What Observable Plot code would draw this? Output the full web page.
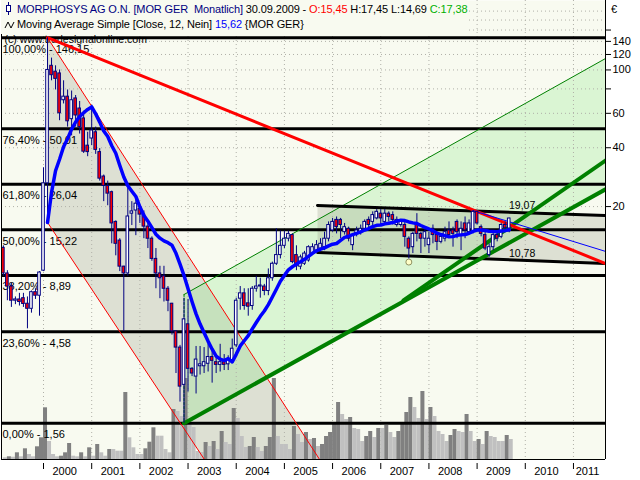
<!DOCTYPE html>
<html><head><meta charset="utf-8">
<script src="https://cdn.jsdelivr.net/npm/d3@7"></script>
<script src="https://cdn.jsdelivr.net/npm/@observablehq/plot@0.6"></script>
<style>
body{margin:0;background:#fff;}
#wrap{position:relative;width:640px;height:480px;overflow:hidden;font-family:"Liberation Sans",Arial,sans-serif;}
.layer{position:absolute;left:0;top:0;}
#hdr{position:absolute;left:1px;top:0;width:466px;height:34px;background:#f8faf0;font-size:11px;letter-spacing:-0.12px;white-space:pre;color:#000;line-height:13px;}
#hdr .l1{position:absolute;left:16px;top:3px;}
#hdr .l2{position:absolute;left:16px;top:18px;}
#hdr svg{position:absolute;left:3px;}
#eur{position:absolute;left:611px;top:3px;font-size:11px;line-height:13px;}
</style></head>
<body>
<div id="wrap">
  <div id="p1" class="layer"></div>
  <div id="p2" class="layer"></div>
  <div id="p3" class="layer"></div>
  <div id="hdr">
    <svg style="top:2px" width="10" height="14"><line x1="4.5" y1="0" x2="4.5" y2="13" stroke="#000080"/><rect x="2.5" y="3.5" width="4" height="6" fill="#fff" stroke="#000080"/></svg>
    <div class="l1"><span style="color:#000080">MORPHOSYS AG O.N. [MOR GER  Monatlich]</span> 30.09.2009 - <span style="color:#ff0000">O:15,45</span> H:17,45 L:14,69 <span style="color:#00b000">C:17,38</span></div>
    <svg style="top:19px" width="12" height="12"><path d="M1,9 L4,3 L7,9 L10,3" fill="none" stroke="#000" stroke-width="1"/></svg>
    <div class="l2">Moving Average Simple [Close, 12, Nein] <span style="color:#0000ff">15,62</span> {MOR GER}</div>
  </div>
  <div id="eur">€</div>
</div>
<script>
// ---- data ----
const fibPct = ["100,00%","76,40%","61,80%","50,00%","38,20%","23,60%","0,00%"];
const fibVal = [146.15,50.01,26.04,15.22,8.89,4.58,1.56];
const yTicks = [20,40,60,80,100,120,140,160];
const yGrid = [20,40,60,80,100,120,140,160,180,200];
const years = [2000,2001,2002,2003,2004,2005,2006,2007,2008,2009,2010,2011];
const firstMonth = 1999 + 2/12; // March 1999
const opens = [12.3,9.1,7.8,6.6,6.7,6.8,6.37,6.0,7.3,7.0,
 9.4,26.3,105,98,96,70,73,56,71.5,63.5,56.5,41,44.6,48,38,28.5,25.5,23.7,16.7,13.4,
 9.86,9.1,18.4,19.1,19.5,18.2,15.8,13.7,10.8,9.1,8.8,7.6,6.37,4.6,3.8,2.45,5.0,2.96,2.7,3.05,
 3.05,3.14,3.4,3.2,3.1,3.2,3.12,3.25,3.9,6.76,7.2,6.4,6.2,7.6,7.8,7.8,7.4,8.6,10.2,11.3,
 12.6,13.7,14.3,11.3,9.85,10.2,10.6,11.5,11.9,12.2,12.4,13.7,15.1,17.1,17.1,14.8,15.4,12.7,14.5,14.8,
 15.4,17.1,16.7,17.4,18.4,16.7,18.4,18.1,16.1,16.1,16.1,13.7,12.4,16.4,14.5,13.7,12.7,15.4,14.3,13.2,
 13.7,15.1,15.1,16.7,14.3,16.4,14.8,14.8,18.8,15.7,14.3,11.3,12.4,14.3,14.0,16.1,15.45];
const highs = [12.6,9.4,8.1,6.9,7.2,7.2,6.9,7.4,7.6,9.3,
 31.6,146.15,115,105,100,88,79,78,74,69,61.5,48,66,51,39.6,29,27,24,16.9,13.7,
 9.9,25.6,21.2,22,20.2,19,16.4,14,12.2,9.9,9.9,7.8,6.4,4.6,3.9,6.8,6.7,3.0,3.85,3.85,
 3.8,3.95,3.75,3.4,3.95,3.5,3.45,4.2,6.8,7.8,7.6,7.6,7.8,8.8,8.6,8.0,9.6,10.4,15.4,15.0,
 15.0,15.0,14.5,12.6,11.3,11.8,12.6,12.9,13.4,13.7,14.8,16.7,17.4,17.7,17.4,16.4,15.7,14.5,15.7,16.1,
 17.1,17.7,18.8,19.3,19.3,19.3,18.8,18.8,17.7,17.1,16.7,14.0,14.8,18.4,14.8,15.4,14.8,16.1,14.8,14.5,
 15.7,16.7,15.7,17.1,16.7,17.7,17.1,19.07,19.0,16.1,14.8,12.9,14.8,15.1,16.4,16.7,17.45];
const lows = [8.8,6.6,6.1,6.3,6.2,6.1,4.74,5.7,6.7,5.5,
 9.3,17.0,88,79,55,67,51,46,51,47,37.4,36,41,37,27,21.2,20.2,12.9,11.2,9.3,
 4.6,8.8,16.0,14.2,16.4,13.7,12.2,10.5,7.6,6.76,6.5,5.8,4.4,2.8,2.0,1.56,2.25,2.7,2.2,2.75,
 2.8,2.85,2.5,2.8,2.85,2.9,2.9,3.2,3.8,5.9,5.9,5.5,5.9,7.3,6.8,7.0,7.0,8.3,10.0,10.8,
 12.2,13.2,10.2,9.4,9.5,10.0,10.4,11.3,11.5,11.7,11.9,13.2,14.8,14.5,13.7,14.3,13.2,11.9,14.0,14.3,
 15.1,15.4,15.7,17.1,16.1,16.1,16.7,16.1,15.7,15.7,12.4,10.78,11.5,13.2,11.5,12.4,11.5,12.9,11.9,12.9,
 13.2,14.0,12.4,13.7,11.9,13.7,14.5,14.5,16.1,14.0,11.9,11.0,11.9,13.2,13.7,14.8,14.69];
const closes = [9.1,7.8,6.6,6.7,6.5,6.35,6.0,7.3,7.0,9.2,
 26.3,100,94,90,60,73,54.6,70,58.5,51,38.2,38,49,39,27.8,25.5,23.3,16.4,12.9,9.86,
 9.1,17.8,18.9,20.7,18.2,15.8,13.7,10.8,9.1,8.6,7.6,6.6,4.6,3.8,2.4,5.3,2.96,2.8,3.3,3.12,
 3.2,3.4,3.25,3.1,3.2,3.1,3.3,3.75,6.6,7.2,6.2,6.15,7.6,7.8,7.9,7.4,8.6,10.2,11.3,12.6,
 13.7,14.5,10.4,9.9,11.0,11.5,12.4,12.4,12.7,12.9,13.7,16.1,16.7,15.7,16.1,15.7,13.7,14.3,15.1,15.4,
 16.7,16.1,18.1,18.8,17.4,18.4,17.7,17.1,17.1,16.7,14.0,12.2,14.5,14.5,13.7,14.8,13.7,14.3,13.2,14.0,
 14.8,14.3,14.5,14.8,15.4,15.1,16.4,18.8,16.4,14.5,12.2,12.4,14.3,13.7,16.1,15.5,17.38];
const volumes = [1.7,2.7,2.3,6.7,2.7,10.7,5,2.7,12.7,21.7,
 51.7,18,5,2.7,3.3,6.7,16,3.3,2.7,6.7,2.7,11.7,3.3,15,6.7,3.3,10,10,8.3,8.3,
 67,21.7,11.7,5,5,10.7,17.3,31.7,23.3,23.3,10,6.7,50,48,43,81,35,32,8,7,
 17,13,18,10,28,17,15,51,41,23,12,13,22,12,8,13,22,81,23,15,
 15,10,33,25,17,27,20,21,13,15,23,27,35,57,45,40,42,31,30,18,
 23,28,22,31,31,34,27,22,28,37,47,62,52,41,68,40,52,43,28,25,
 18,24,30,28,27,45,28,18,20,15,28,23,22,18,18,24,20];
// trend/channel lines: [decimal year, price]
const redThick = [[2000.083,146.15],[2011.665,10.23]];
const redThinUpper = [[2000.083,146.15],[2005.75,1.0]];
const redThinLower = [[2000.083,16.6],[2003.36,1.0]];
const greenLower = [[2002.917,1.56],[2011.665,24.5]];
const greenUpper = [[2002.917,7.1],[2011.665,114.4]];
const greenSteep = [[2007.472,6.62],[2011.665,34.4]];
const chanUpper = [[2005.687,20.26],[2011.665,18.0]];
const chanLower = [[2005.687,11.65],[2011.665,10.23]];
const blueThin = [[2008.917,19.07],[2011.665,11.8]];
const extremeLabels = [{t:2009.935, v:19.07, s:"19,07"},{t:2009.935, v:10.78, s:"10,78"}];
const lowMarker = [{t:2007.583, v:10.78}];

// ---- build ----
const xDomain = [1999.128, 2011.665];
const yDomain = [1.017, 226.6];
const bars = opens.map((o,i)=>({t: firstMonth + i/12, o, h: highs[i], l: lows[i], c: closes[i], v: volumes[i], up: i>0 && volumes[i] > volumes[i-1]}));
const fmt = d => d.toFixed(2).replace(".", ",");
const poly = (a,b) => [a[0], a[1], b[1], b[0]];
const X = d => d[0], Y = d => d[1];

function base(marks, yOpt) {
  return Plot.plot({
    width: 640, height: 480, marginLeft: 1, marginRight: 35, marginTop: 0, marginBottom: 21,
    x: {domain: xDomain, axis: null, label: null},
    y: yOpt || {type: "log", domain: yDomain, axis: null, label: null},
    color: {type: "identity"},
    style: {background: "transparent", fontFamily: "'Liberation Sans', Arial, sans-serif", fontSize: "11px", color: "black", overflow: "visible"},
    marks
  });
}

const layer1 = base([
  Plot.frame({fill: "#f8faf0", stroke: null}),
  Plot.line(poly(redThinUpper, redThinLower), {x: X, y: Y, fill: "#8c8e78", fillOpacity: 0.24, stroke: "none", clip: true}),
  Plot.line(poly(greenUpper, greenLower), {x: X, y: Y, fill: "#7fe87a", fillOpacity: 0.24, stroke: "none", clip: true}),
  Plot.line(poly(chanUpper, chanLower), {x: X, y: Y, fill: "#8c8e78", fillOpacity: 0.24, stroke: "none", clip: true}),
  Plot.ruleY(yGrid, {stroke: "#b0b0a8", strokeDasharray: "1,3"}),
  Plot.ruleX(years, {stroke: "#b0b0a8", strokeDasharray: "1,3"})
]);

const layer2 = base([
  Plot.rectY(bars, {x1: "t", x2: d => d.t + 1/12, y: "v", fill: d => d.up ? "#808080" : "#c0c0c0"})
], {type: "linear", domain: [0, 459], axis: null, label: null});

const yearLabelPos = years.map(y => Math.min(y + 0.44, (y + xDomain[1]) / 2 - 0.04));

const layer3 = base([
  Plot.text(["(c) www.tradesignalonline.com"], {frameAnchor: "top-left", text: d => d, textAnchor: "start", lineAnchor: "bottom", dx: 3, dy: 42, fill: "black", fontSize: 10.5}),
  Plot.ruleY(fibVal, {stroke: "black", strokeWidth: 3}),
  Plot.text(fibVal, {y: d => d, frameAnchor: "left", text: (d, i) => `${fibPct[i]} - ${fmt(d)}`, textAnchor: "start", lineAnchor: "top", dx: 1, dy: 7, fill: "black", fontSize: 11}),
  Plot.line(redThinUpper, {x: X, y: Y, stroke: "#ff0000", strokeWidth: 1, clip: true}),
  Plot.line(redThinLower, {x: X, y: Y, stroke: "#ff0000", strokeWidth: 1, clip: true}),
  Plot.line(greenUpper, {x: X, y: Y, stroke: "#008000", strokeWidth: 1, clip: true}),
  Plot.line([greenUpper[0], greenLower[0]], {x: X, y: Y, stroke: "#008000", strokeWidth: 1, strokeDasharray: "2,2", clip: true}),
  Plot.line(chanUpper, {x: X, y: Y, stroke: "black", strokeWidth: 3, clip: true}),
  Plot.line(chanLower, {x: X, y: Y, stroke: "black", strokeWidth: 3, clip: true}),
  Plot.line(greenLower, {x: X, y: Y, stroke: "#008000", strokeWidth: 4, clip: true}),
  Plot.line(greenSteep, {x: X, y: Y, stroke: "#008000", strokeWidth: 4, clip: true}),
  Plot.line(redThick, {x: X, y: Y, stroke: "#ff0000", strokeWidth: 3, clip: true}),
  Plot.line(blueThin, {x: X, y: Y, stroke: "#0000ff", strokeWidth: 1, clip: true}),
  Plot.ruleX(bars, {x: "t", y1: "l", y2: "h", stroke: "#000080", strokeWidth: 1}),
  Plot.rect(bars, {x1: d => d.t - 1/24, x2: d => d.t + 1/24, y1: "o", y2: "c", fill: d => d.c < d.o ? "#ff0000" : "#ffffff", stroke: "#000080", strokeWidth: 1, insetLeft: 0.7, insetRight: 0.7}),
  Plot.lineY(bars, Plot.windowY({k: 12, anchor: "end", strict: true}, {x: "t", y: "c", stroke: "#0000ff", strokeWidth: 3.5})),
  Plot.text(extremeLabels, {x: "t", y: "v", text: "s", dy: -5, fill: "black", fontSize: 10.5}),
  Plot.dot(lowMarker, {x: "t", y: "v", dy: 3, r: 3, fill: "#ffffc8", stroke: "#909060", strokeWidth: 1}),
  Plot.ruleX(xDomain, {stroke: "black"}),
  Plot.ruleY([yDomain[0]], {stroke: "black"}),
  Plot.axisY(yTicks, {anchor: "right", label: null, tickSize: 5, tickPadding: 2, tickFormat: d => d <= 140 ? String(d) : "", fontSize: 11}),
  Plot.axisX(years, {anchor: "bottom", label: null, tickSize: 6, dy: 4, tickFormat: () => ""}),
  Plot.axisX(yearLabelPos, {anchor: "bottom", label: null, tickSize: 0, tickPadding: 8, tickFormat: d => String(Math.floor(d)), fontSize: 11})
]);

document.getElementById("p1").appendChild(layer1);
document.getElementById("p2").appendChild(layer2);
document.getElementById("p3").appendChild(layer3);
</script>
</body></html>
